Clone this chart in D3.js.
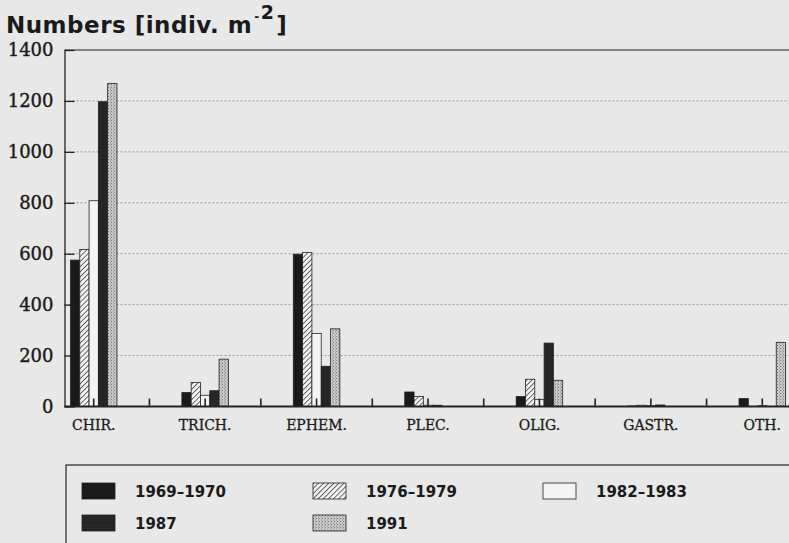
<!DOCTYPE html>
<html>
<head>
<meta charset="utf-8">
<script src="https://cdn.jsdelivr.net/npm/d3@7"></script>
<style>
  body { margin: 0; background: #e8e8e8; }
  svg { display: block; }
</style>
</head>
<body>
<div id="chart"></div>
<script>
// values (indiv. m-2)
const categories = ["CHIR.", "TRICH.", "EPHEM.", "PLEC.", "OLIG.", "GASTR.", "OTH."];
const years = ["1969-1970", "1976-1979", "1982-1983", "1987", "1991"];
const v1969 = [575, 55, 598, 57, 39, 2, 31];
const v1976 = [617, 94, 605, 39, 107, 5, 0];
const v1982 = [808, 44, 287, 5, 27, 3, 3];
const v1987 = [1197, 62, 158, 5, 249, 6, 0];
const v1991 = [1269, 186, 305, 0, 103, 0, 252];
const yTicks = [0, 200, 400, 600, 800, 1000, 1200, 1400];
const legendLabels = ["1969\u20131970", "1976\u20131979", "1982\u20131983", "1987", "1991"];

const width = 789,
    height = 543,
    margin = ({ top: 50, right: -15, bottom: 136.5, left: 64.5 });

const series = [v1969, v1976, v1982, v1987, v1991];
const data = [];
categories.forEach((c, i) => {
    years.forEach((yr, j) => data.push({ cat: c, year: yr, value: series[j][i] }));
});

const svg = d3.select("#chart")
    .append("svg")
    .attr("width", width)
    .attr("height", height)
    .attr("viewBox", [0, 0, width, height]);

// fills
const defs = svg.append("defs");
const hatch = defs.append("pattern")
    .attr("id", "hatch")
    .attr("patternUnits", "userSpaceOnUse")
    .attr("width", 3.6).attr("height", 3.6)
    .attr("patternTransform", "rotate(45)");
hatch.append("rect").attr("width", 3.6).attr("height", 3.6).attr("fill", "#f4f4f4");
hatch.append("line").attr("x1", 0).attr("y1", 0).attr("x2", 0).attr("y2", 3.6)
    .attr("stroke", "#1c1c1c").attr("stroke-width", 1.3);

const dark = defs.append("pattern")
    .attr("id", "dark")
    .attr("patternUnits", "userSpaceOnUse")
    .attr("width", 4).attr("height", 4);
dark.append("rect").attr("width", 4).attr("height", 4).attr("fill", "#252525");
dark.append("rect").attr("x", 1).attr("y", 1).attr("width", 1).attr("height", 1).attr("fill", "#333");

const dots = defs.append("pattern")
    .attr("id", "dots")
    .attr("patternUnits", "userSpaceOnUse")
    .attr("width", 3).attr("height", 3);
dots.append("rect").attr("width", 3).attr("height", 3).attr("fill", "#c9c9c9");
dots.append("rect").attr("x", 0).attr("y", 0).attr("width", 1).attr("height", 1).attr("fill", "#7a7a7a");
dots.append("rect").attr("x", 2).attr("y", 1.5).attr("width", 1).attr("height", 1).attr("fill", "#8a8a8a");

const fills = d3.scaleOrdinal()
    .domain(years)
    .range(["#1a1a1a", "url(#hatch)", "#f4f4f4", "url(#dark)", "url(#dots)"]);

const y = d3.scaleLinear()
    .domain([0, 1400])
    .range([height - margin.bottom, margin.top]);

const x = d3.scaleBand()
    .domain(categories)
    .range([38, 818]);

const xs = d3.scaleBand()
    .domain(years)
    .range([0, 46.5]);

const plotRight = width - margin.right;

// grid
svg.append("g")
    .selectAll("line")
    .data(yTicks.filter(t => t > 0 && t < 1400))
    .join("line")
    .attr("x1", margin.left).attr("x2", plotRight)
    .attr("y1", d => y(d)).attr("y2", d => y(d))
    .attr("stroke", "#555")
    .attr("stroke-width", 0.8)
    .attr("stroke-dasharray", "2,2")
    .attr("opacity", 0.7);

// frame top
svg.append("line")
    .attr("x1", margin.left).attr("x2", plotRight)
    .attr("y1", y(1400)).attr("y2", y(1400))
    .attr("stroke", "#222").attr("stroke-width", 1.2);

// bars
svg.append("g")
    .selectAll("rect")
    .data(data)
    .join("rect")
    .attr("x", d => x(d.cat) + x.bandwidth() / 2 - 23.25 + xs(d.year))
    .attr("y", d => y(d.value))
    .attr("width", xs.bandwidth())
    .attr("height", d => y(0) - y(d.value))
    .attr("fill", d => fills(d.year))
    .attr("stroke", "#222")
    .attr("stroke-width", 0.8);

// y axis
const yAxis = svg.append("g")
    .attr("transform", `translate(${margin.left},0)`)
    .call(d3.axisLeft(y).tickValues(yTicks).tickFormat(d3.format("d"))
        .tickSize(-10).tickPadding(11).tickSizeOuter(0));
yAxis.select(".domain").attr("stroke", "#222").attr("stroke-width", 1.3);
yAxis.selectAll(".tick line").attr("stroke", "#222").attr("stroke-width", 1.3);
yAxis.selectAll("text")
    .attr("font-family", "DejaVu Serif")
    .attr("font-size", 18)
    .attr("fill", "#1a1a1a")
    .attr("stroke", "#1a1a1a")
    .attr("stroke-width", 0.4);

// x baseline and small ticks at group centres and between groups
svg.append("line")
    .attr("x1", margin.left).attr("x2", plotRight)
    .attr("y1", y(0)).attr("y2", y(0))
    .attr("stroke", "#222").attr("stroke-width", 2);

const tickPos = [];
categories.forEach(c => {
    tickPos.push(x(c) + x.bandwidth() / 2);
    if (x(c) > margin.left) tickPos.push(x(c));
});
svg.append("g")
    .attr("class", "xticks")
    .selectAll("rect")
    .data(tickPos)
    .join("rect")
    .attr("x", d => d - 0.8)
    .attr("y", y(0) - 8)
    .attr("width", 1.6)
    .attr("height", 8)
    .attr("fill", "#222");

svg.append("g")
    .selectAll("text")
    .data(categories)
    .join("text")
    .attr("x", d => x(d) + x.bandwidth() / 2)
    .attr("y", y(0) + 23)
    .attr("text-anchor", "middle")
    .attr("font-family", "DejaVu Serif")
    .attr("font-size", 14)
    .attr("fill", "#1a1a1a")
    .attr("stroke", "#1a1a1a")
    .attr("stroke-width", 0.3)
    .text(d => d);

// title
const title = svg.append("text")
    .attr("x", 6)
    .attr("y", 33)
    .attr("font-family", "DejaVu Sans")
    .attr("font-weight", "bold")
    .attr("font-size", 23)
    .attr("letter-spacing", 0.5)
    .attr("fill", "#1a1a1a");
title.append("tspan").text("Numbers [indiv. m");
title.append("tspan").attr("dx", 2).attr("dy", -12).attr("font-size", 12).text("-");
title.append("tspan").attr("dx", 1).attr("dy", -2).attr("font-size", 19).text("2");
title.append("tspan").attr("dx", 2).attr("dy", 14).text("]");

// legend
svg.append("rect")
    .attr("x", 66).attr("y", 465)
    .attr("width", 800).attr("height", 120)
    .attr("fill", "none")
    .attr("stroke", "#222")
    .attr("stroke-width", 1.2);

const legendPos = [[82, 483], [313, 483], [543, 483], [82, 515], [313, 515]];
const legend = svg.append("g")
    .selectAll("g")
    .data(years)
    .join("g")
    .attr("transform", (d, i) => `translate(${legendPos[i][0]},${legendPos[i][1]})`);
legend.append("rect")
    .attr("width", 33)
    .attr("height", 16)
    .attr("fill", d => fills(d))
    .attr("stroke", "#222")
    .attr("stroke-width", 0.8);
legend.append("text")
    .attr("x", 53)
    .attr("y", 14)
    .attr("font-family", "DejaVu Sans")
    .attr("font-weight", "bold")
    .attr("font-size", 15)
    .attr("fill", "#1a1a1a")
    .text((d, i) => legendLabels[i]);
</script>
</body>
</html>
